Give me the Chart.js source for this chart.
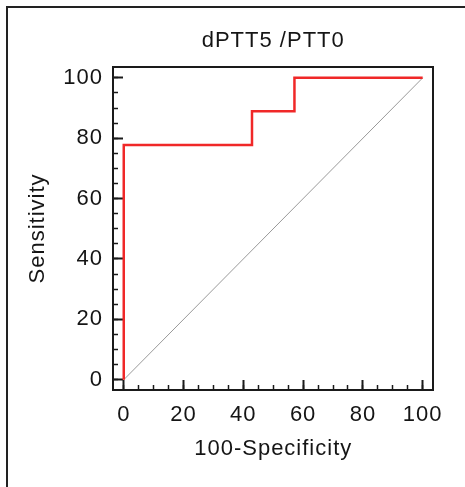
<!DOCTYPE html>
<html>
<head>
<meta charset="utf-8">
<script src="https://cdn.jsdelivr.net/npm/chart.js@4"></script>
<style>
  html, body { margin: 0; padding: 0; background: #fff; overflow: hidden; }
  #frame { position: absolute; left: 6px; top: 6px; width: 600px; height: 600px;
           border-left: 2px solid #222; border-top: 2px solid #222; }
  #roc { position: absolute; left: 0; top: 0; }
</style>
</head>
<body>
<div id="frame"></div>
<canvas id="roc" width="465" height="487"></canvas>
<script>
// ROC curve points (100-Specificity, Sensitivity)
const fpr = [0, 0, 42.9, 42.9, 57.1, 57.1, 100];
const tpr = [0, 77.8, 77.8, 88.9, 88.9, 100, 100];
// reference diagonal
const diagX = [0, 100];
const diagY = [0, 100];

const xTicks = [0, 20, 40, 60, 80, 100];
const yTicks = [0, 20, 40, 60, 80, 100];
const minorStep = 5;

const chartTitle = 'dPTT5 /PTT0';
const xTitle = '100-Specificity';
const yTitle = 'Sensitivity';

const axisColor = '#1a1a1a';
const textColor = '#151515';
const font = { family: '"Liberation Sans", Arial, sans-serif', size: 22, weight: 'normal' };

function toPoints(xs, ys) {
    return xs.map((x, i) => ({ x: x, y: ys[i] }));
}

// text in the reference is a bit wider than Arial
const spacing = {
    id: 'spacing',
    beforeLayout(chart) { chart.ctx.letterSpacing = '1px'; },
    beforeDraw(chart) { chart.ctx.letterSpacing = '1px'; }
};

const xRange = { min: -3.6, max: 103.6 };
const yRange = { min: -3.4, max: 103.6 };

function major(range, list, size, isX) {
    return {
        type: 'linear',
        position: isX ? 'bottom' : 'left',
        weight: 1,
        min: range.min, max: range.max,
        afterBuildTicks: s => { s.ticks = list.map(v => ({ value: v })); },
        ticks: { font: font, color: textColor, padding: isX ? 21.4 : 20, maxRotation: 0, autoSkip: false },
        grid: { drawOnChartArea: false, tickLength: -10, tickWidth: 2, tickColor: axisColor },
        border: { color: axisColor, width: 2 },
        title: {
            display: true, text: isX ? xTitle : yTitle, font: font, color: textColor,
            padding: isX ? { top: 0, bottom: 25.3 } : { top: 24.8, bottom: 0 }
        },
        afterFit: s => { if (isX) s.height = size; else s.width = size; }
    };
}

function minor(range, isX) {
    return {
        type: 'linear',
        position: isX ? 'bottom' : 'left',
        weight: 0,
        min: range.min, max: range.max,
        ticks: { display: false, stepSize: minorStep, includeBounds: false },
        grid: { drawOnChartArea: false, tickLength: -5, tickWidth: 1.5, tickColor: axisColor },
        border: { color: axisColor, width: 2 },
        afterFit: s => { if (isX) s.height = 0; else s.width = 0; }
    };
}

function edge(range, pos) {
    return {
        type: 'linear',
        position: pos,
        min: range.min, max: range.max,
        ticks: { display: false },
        grid: { drawOnChartArea: false, drawTicks: false },
        border: { color: axisColor, width: 2 },
        afterFit: s => { if (pos === 'top') s.height = 0; else s.width = 0; }
    };
}

const config = {
    type: 'scatter',
    data: {
        datasets: [{
            label: 'ROC',
            data: toPoints(fpr, tpr),
            showLine: true,
            borderColor: '#f02828',
            borderWidth: 2.5,
            pointRadius: 0,
            fill: false,
            order: 0
        }, {
            label: 'Reference',
            data: toPoints(diagX, diagY),
            showLine: true,
            borderColor: '#999',
            borderWidth: 1,
            pointRadius: 0,
            fill: false,
            order: 1
        }]
    },
    options: {
        responsive: false,
        animation: false,
        devicePixelRatio: 1,
        layout: { padding: { left: 0, top: 0, right: 27, bottom: 0 } },
        plugins: {
            legend: { display: false },
            tooltip: { enabled: false },
            title: {
                display: true, text: chartTitle, font: font, color: textColor,
                fullSize: false,
                padding: { top: 27.6, bottom: 13 }
            }
        },
        scales: {
            xm: minor(xRange, true),
            x: major(xRange, xTicks, 97, true),
            ym: minor(yRange, false),
            y: major(yRange, yTicks, 113, false),
            x2: edge(xRange, 'top'),
            y2: edge(yRange, 'right')
        }
    },
    plugins: [spacing]
};

new Chart(document.getElementById('roc'), config);
</script>
</body>
</html>
